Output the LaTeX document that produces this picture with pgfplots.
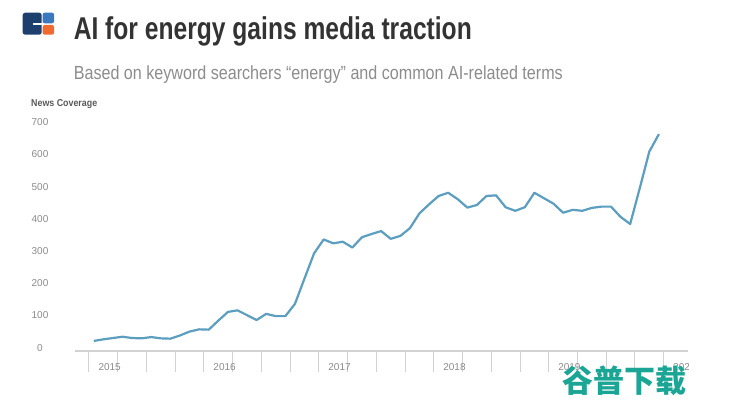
\documentclass[border=0pt]{standalone}
\usepackage{pgfplots}
\pgfplotsset{compat=1.18}
\usepackage{fontspec}
\setmainfont{Liberation Sans}
\newfontfamily\cjk{Noto Sans CJK SC}
\definecolor{linec}{HTML}{5B9EC0}
\definecolor{navy}{HTML}{1C3F6E}
\definecolor{logoblue}{HTML}{3A78C0}
\definecolor{logoorange}{HTML}{EE6A2F}
\definecolor{titlec}{HTML}{333333}
\definecolor{subc}{HTML}{8C8C8C}
\definecolor{tickc}{HTML}{8A8A8A}
\definecolor{axc}{HTML}{D2D2D2}
\definecolor{wm}{HTML}{1AA595}
\begin{document}
\begin{tikzpicture}[x=1pt,y=1pt]
\useasboundingbox (0,0) rectangle (740,401);
% logo
\fill[navy, rounded corners=2.5pt] (22.7,366.3) rectangle (41.7,388.3);
\fill[white] (33.3,376) rectangle (42.7,377.7);
\fill[logoblue, rounded corners=2pt] (42.7,377.7) rectangle (54,388.3);
\fill[logoorange, rounded corners=2pt] (42.7,366.3) rectangle (54,376);
% titles
\node[anchor=base west, inner sep=0, text=titlec] at (73.6,361)
  {\resizebox{398pt}{\height}{\fontsize{31.5}{34}\selectfont\bfseries AI for energy gains media traction}};
\node[anchor=base west, inner sep=0, text=subc] at (73.6,321.5)
  {\resizebox{489pt}{\height}{\fontsize{19}{22}\selectfont Based on keyword searchers “energy” and common AI-related terms}};
\node[anchor=base west, inner sep=0, text=black!65] at (31,294)
  {\resizebox{66pt}{\height}{\fontsize{10}{12}\selectfont\bfseries News Coverage}};
\begin{scope}
\clip (0,0) rectangle (688.5,401);
\begin{axis}[
  at={(89pt,53.3pt)}, anchor=origin,
  scale only axis, width=613pt, height=228.7pt,
  xmin=-1.46, xmax=62.54, ymin=-10, ymax=700,
  separate axis lines,
  axis x line*=bottom, axis y line*=left,
  x axis line style={draw=axc, line width=2pt},
  y axis line style={draw=none},
  ytick={0,100,...,700},
  ytick style={draw=none},
  yticklabel style={anchor=center, xshift=-14pt, text=tickc, font=\fontsize{10}{12}\selectfont},
  /pgf/number format/assume math mode=true,
  xtick={0,3,...,60},
  xticklabels={2015,,,,2016,,,,2017,,,,2018,,,,2019,,,,2020},
  tick align=outside,
  major tick length=21pt,
  x tick style={draw=axc, line width=1pt},
  xticklabel style={anchor=west, xshift=6pt, yshift=5pt, text=tickc, font=\fontsize{10}{12}\selectfont},
  clip=false,
]
\addplot[linec, line width=2.2pt, line join=round] coordinates {
(0.5,21)(1.5,26)(2.5,30)(3.5,34)(4.5,30)(5.5,29)(6.5,33)(7.5,29)(8.5,28)(9.5,38)(10.5,50)(11.5,57)
(12.5,56)(13.5,84)(14.5,111)(15.5,116)(16.5,101)(17.5,86)(18.5,105)(19.5,98)(20.5,98)(21.5,136)(22.5,215)(23.5,293)
(24.5,336)(25.5,324)(26.5,329)(27.5,311)(28.5,343)(29.5,353)(30.5,362)(31.5,338)(32.5,347)(33.5,371)(34.5,417)(35.5,445)
(36.5,471)(37.5,481)(38.5,461)(39.5,435)(40.5,443)(41.5,471)(42.5,473)(43.5,436)(44.5,425)(45.5,436)(46.5,481)(47.5,464)
(48.5,447)(49.5,419)(50.5,428)(51.5,425)(52.5,434)(53.5,438)(54.5,438)(55.5,406)(56.5,384)(57.5,495)(58.5,609)(59.5,663)
};
\end{axis}
\end{scope}
\node[anchor=west, inner sep=0, text=wm] at (562,20) {\fontsize{31}{34}\selectfont\cjk\bfseries 谷普下载};
\end{tikzpicture}
\end{document}
